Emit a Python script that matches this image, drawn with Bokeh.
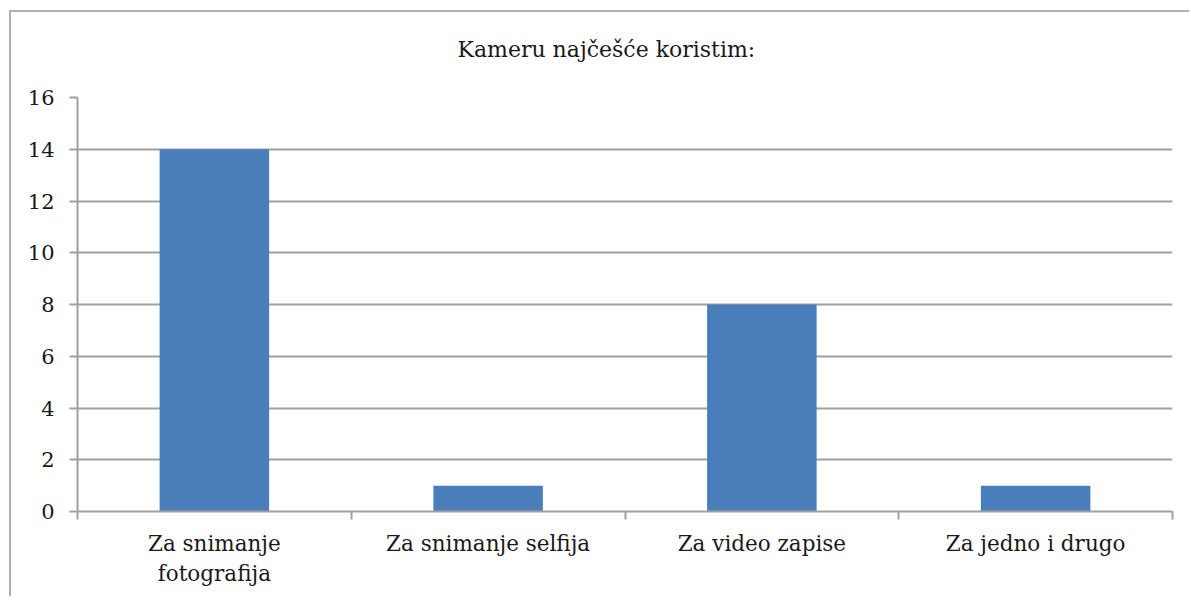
from bokeh.plotting import figure
from bokeh.models import FixedTicker, Range1d, ColumnDataSource, Title
from bokeh.embed import file_html
from bokeh.resources import INLINE

title_text = "Kameru najčešće koristim:"
categories = ["Za snimanje\nfotografija", "Za snimanje selfija", "Za video zapise", "Za jedno i drugo"]
values = [14, 1, 8, 1]
y_ticks = [0, 2, 4, 6, 8, 10, 12, 14, 16]

FONT = "DejaVu Serif"
GRAY = "#a0a0a0"
BAR = "#4a7ebb"
TXT = "#1a1a1a"

xs = [i + 0.5 for i in range(len(categories))]
src = ColumnDataSource(dict(x=xs, top=values))

p = figure(width=1180, height=586, output_backend="svg", toolbar_location=None, title=None,
           x_range=Range1d(0, len(categories)), y_range=Range1d(0, 16),
           min_border_left=66, min_border_right=19, min_border_top=85, min_border_bottom=87,
           margin=(10, 0, 0, 9),
           styles={"border-left": "2px solid #b0b0b0", "border-top": "2px solid #b0b0b0"})
p.outline_line_color = None
p.background_fill_color = "white"

p.vbar(x="x", top="top", width=0.4, bottom=0, source=src, fill_color=BAR, line_color=None)

# spacer between frame and title, then the title itself
p.add_layout(Title(text=" ", text_font_size="10px", standoff=23), "above")
p.add_layout(Title(text=title_text, text_font=FONT, text_font_size="22px",
                   text_font_style="normal", text_color=TXT, align="left",
                   offset=380, standoff=0), "above")

# x axis
xa = p.xaxis[0]
xa.ticker = FixedTicker(ticks=xs, minor_ticks=list(range(len(categories) + 1)))
xa.major_label_overrides = {x: c for x, c in zip(xs, categories)}
xa.major_tick_line_color = None
xa.minor_tick_line_color = GRAY
xa.minor_tick_line_width = 2
xa.minor_tick_out = 8
xa.minor_tick_in = 0
xa.axis_line_color = GRAY
xa.axis_line_width = 2
xa.major_label_text_font = FONT
xa.major_label_text_font_size = "21.5px"
xa.major_label_text_color = TXT
xa.major_label_standoff = 11

# y axis
ya = p.yaxis[0]
ya.ticker = FixedTicker(ticks=y_ticks)
ya.major_tick_line_color = GRAY
ya.major_tick_line_width = 2
ya.major_tick_out = 8
ya.major_tick_in = 0
ya.minor_tick_line_color = None
ya.axis_line_color = GRAY
ya.axis_line_width = 2
ya.major_label_text_font = FONT
ya.major_label_text_font_size = "21px"
ya.major_label_text_color = TXT
ya.major_label_standoff = 15

p.xgrid.grid_line_color = None
p.ygrid.ticker = FixedTicker(ticks=y_ticks)
p.ygrid.grid_line_color = GRAY
p.ygrid.grid_line_width = 2

open("out.html", "w").write(file_html(p, INLINE))
